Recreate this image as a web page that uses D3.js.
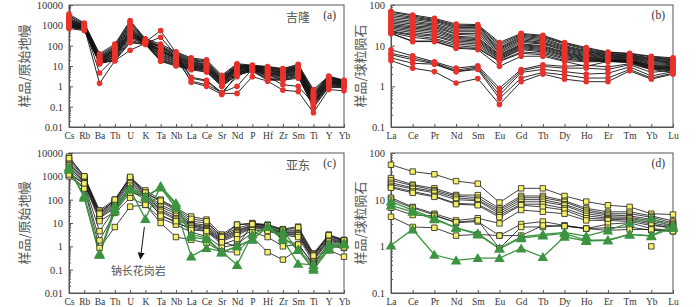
<!DOCTYPE html>
<html>
<head>
<meta charset="utf-8">
<script src="https://cdn.jsdelivr.net/npm/d3@7"></script>
<style>
  body { margin: 0; background: #fff; }
  svg text { font-family: "Liberation Serif", "Times New Roman", serif; fill: #333; }
  svg text.cjk { font-family: "Noto Sans CJK SC", sans-serif; fill: #555; }
</style>
</head>
<body>
<div id="chart"></div>
<script>
// Trace element / REE spider diagrams, Jilong (a,b) and Yadong (c,d)

const pmElements = ['Cs','Rb','Ba','Th','U','K','Ta','Nb','La','Ce','Sr','Nd','P','Hf','Zr','Sm','Ti','Y','Yb'];
const reeElements = ['La','Ce','Pr','Nd','Sm','Eu','Gd','Tb','Dy','Ho','Er','Tm','Yb','Lu'];
const pmTicks = [10000, 1000, 100, 10, 1, 0.1, 0.01];
const reeTicks = [100, 10, 1, 0.1];

// (a) Jilong, primitive-mantle normalised
const jilongPM = [
  [3600,1300,40,120,1700,220,120,50,25,20,3.5,13,11,9.5,7.5,12,0.7,3.2,2.0],
  [3000,1200,35,100,1500,200,100,45,22,18,3.0,12,10,9,7,11,0.6,3.0,1.9],
  [2600,1100,30,90,1300,190,90,40,20,16,2.8,11,10,8.5,6.5,10,0.5,2.8,1.8],
  [2200,1050,28,80,1100,180,80,36,18,15,2.5,10,9.5,8,6,9.5,0.45,2.6,1.7],
  [2000,1000,26,70,950,170,70,33,16,13,2.3,9.5,9,7.5,5.5,9,0.4,2.4,1.6],
  [1800,950,24,65,800,165,60,30,15,12,2.1,9,9,7,5,8.5,0.35,2.2,1.5],
  [1600,900,22,60,700,160,55,28,14,11,2.0,8.5,8.5,6.5,4.8,8,0.3,2.0,1.4],
  [1500,850,20,55,600,155,50,26,13,10,1.9,8,8,6,4.5,7.5,0.28,1.9,1.35],
  [1400,800,19,50,500,150,45,24,12,9.5,1.8,7.5,8,5.5,4.2,7,0.25,1.8,1.3],
  [1300,780,18,45,450,150,40,22,11,9,1.7,7,7.5,5,4,6.5,0.22,1.7,1.25],
  [1200,750,17,40,400,145,35,20,10,8.5,1.6,6.5,7.5,4.5,3.8,6,0.2,1.6,1.2],
  [1100,720,16,35,350,140,32,18,9.5,8,1.5,6,7,4.2,3.5,5.5,0.18,1.5,1.15],
  [1000,700,15,30,300,140,28,16,9,7.5,1.4,5.5,7,4,3.2,5,0.16,1.4,1.1],
  [950,680,14,28,260,135,25,15,8.5,7,1.3,5,6.5,3.5,3,4.5,0.15,1.3,1.05],
  [900,650,14,25,220,130,22,13,8,6.5,1.2,4.5,6.5,3,2.8,4,0.13,1.2,1.0],
  [850,620,13,22,180,125,20,12,7.5,6,1.1,4,6,2.5,2.5,3.5,0.12,1.1,0.95],
  [800,600,13,20,150,120,18,11,7,5.5,1.0,3.8,6,2.2,2.2,3.2,0.1,1.0,0.9],
  [700,550,14,18,140,115,17,10,6.5,5,1.0,3.6,5.5,2,2,3,0.09,0.9,0.85],
  [2000,900,4.5,25,600,150,550,45,2.8,2.0,0.5,1.0,7,3,1.2,1.0,0.15,1.8,1.3],
  [1500,800,1.4,18,60,130,260,35,2.5,1.8,0.45,0.45,3.0,1.8,0.65,0.55,0.05,0.7,0.6],
  [1200,700,14,40,300,140,60,25,1.8,1.2,0.5,3,7,4,2,2.5,0.3,2.5,1.5],
  [1000,650,20,60,400,160,90,30,1.6,1.0,0.4,4,8,5,3,4,0.35,2.8,1.8]
];

// (b) Jilong, chondrite normalised
const jilongREE = [
  [70,57,47,34,33,12,20,18,12,9,7,6.5,5.5,5],
  [66,54,44,32,31,11,19,17,11.5,8.5,6.8,6.3,5.3,4.8],
  [60,50,42,30,30,10,18,16,11,8,6.5,6,5,4.6],
  [55,47,40,28,28,9,17,15,10,7.6,6.3,5.8,4.8,4.5],
  [50,44,37,26,26,8.5,16,14,9.5,7.2,6,5.6,4.6,4.3],
  [46,40,34,24,24,8,15,13,9,7,5.8,5.4,4.4,4.1],
  [42,37,32,22,22,7.5,14,12,8.5,6.6,5.6,5.2,4.2,4.0],
  [39,34,30,20,20,7,13,11.5,8,6.3,5.4,5.0,4.0,3.8],
  [36,31,28,19,18,6.5,12,11,7.5,6,5.2,4.9,3.8,3.6],
  [33,29,26,17,16,6,11,10,7,5.7,5,4.7,3.6,3.4],
  [31,27,24,16,15,5.8,10.5,9.5,6.7,5.4,4.8,4.5,3.4,3.2],
  [29,25,22,15,14,5.5,10,9,6.4,5.2,4.6,4.4,3.3,3.0],
  [27,23,20,14,13,5.2,9.5,8.5,6,5,4.5,4.3,3.2,2.9],
  [25,21,18,13,12,5,9,8,5.7,4.8,4.4,4.2,3.1,2.8],
  [23,19,17,12,11,4.7,8.5,7.5,5.4,4.6,4.3,4.1,3.0,2.7],
  [22,18,15,11,10,4.5,8,7,5,4.4,4.2,4.1,2.9,2.6],
  [21,16,14,10,9,4.2,7,6.5,4.7,4.2,4.1,4.0,2.8,2.5],
  [20,13,13,9,8.5,4.1,6.5,6,4.3,4.0,4.1,4.0,2.7,2.4],
  [20,12.6,12.6,8.7,8,3.1,5.5,5.5,4.1,3.1,4.1,3.8,2.6,2.2],
  [7.9,5.6,4.0,2.8,3.2,0.9,2.6,3.4,3.1,3.3,3.0,3.6,2.6,3.0],
  [6.5,5.0,3.8,2.5,3.0,0.75,2.4,3.1,2.8,2.8,2.6,3.4,2.2,2.5],
  [6.0,4.5,3.6,2.3,2.8,0.6,2.2,2.6,2.3,2.0,2.1,3.0,1.8,2.3],
  [5.0,3.7,3.5,2.3,2.6,0.5,1.6,2.2,1.9,1.6,1.6,2.6,1.6,2.1],
  [4.3,2.8,2.3,1.2,1.55,0.36,1.3,2.0,1.5,1.3,1.3,2.4,1.5,2.0]
];

// (c) Yadong granites, primitive-mantle normalised
const yadongPM = [
  [7000,1000,35,100,900,250,100,44,19,14,3.2,8.5,10,8.5,5.5,7,0.5,3.2,1.9],
  [5000,900,30,90,800,200,80,35,12,10,2.8,6,9,8,5,5,0.45,2.8,1.8],
  [4000,800,25,80,700,180,60,30,10,8,2.5,5,8,7,4.5,4.5,0.4,2.5,1.7],
  [3500,700,22,70,600,160,50,25,9,7,2.2,4.5,7.5,6.5,4,4,0.35,2.2,1.6],
  [3000,600,20,60,500,150,40,20,8.5,6,2.0,4,7,6,3.8,3.6,0.3,2.0,1.5],
  [2500,550,18,50,400,140,35,16,8,5.5,1.8,3.5,6.5,5.5,3.5,3.2,0.28,1.8,1.4],
  [2000,500,16,45,300,120,30,14,7,5,1.6,3,6,5,3.2,3,0.25,1.6,1.3],
  [1500,450,4.5,40,250,100,23,10,6,4.5,1.2,2,5,4.5,3,2.5,0.2,1.3,1.2],
  [1100,350,1.8,27,120,60,16,8.5,4,2.7,0.9,1.2,4,2.5,1.0,1.2,0.18,1.0,0.85],
  [1000,300,0.85,6.7,50,60,10,2.5,1.9,1.4,0.6,0.56,2.5,0.56,0.27,0.72,0.16,0.7,0.36],
  [6000,1000,25,100,950,200,90,40,15,12,2.5,8.5,9,7.5,5,6.5,0.4,3,1.8],
  [1200,500,12,30,200,140,20,12,5,4.5,1.5,1,9,8,2,1.2,0.16,1.2,0.9]
];
// (c) Yadong albite granite
const yadongAlbitePM = [
  [2200,130,0.45,32,270,15,380,72,3.2,2.3,0.56,1.0,1.9,7,4.4,0.7,0.1,0.72,1.4],
  [2500,120,0.44,55,316,140,330,44,0.37,0.85,0.6,0.16,3.2,6.7,1.9,0.18,0.16,1.2,1.2],
  [1900,150,0.5,40,290,120,350,60,2.5,2.0,0.55,1.0,2.0,7,2.5,0.72,0.12,0.9,1.3]
];

// (d) Yadong granites, chondrite normalised
const yadongREE = [
  [56,40,35,25,22,8.7,17.5,17.5,12,9.1,7.6,7,5,4.8],
  [29,21,17.5,12.6,12.5,6.5,12,12,9.5,6.5,5.5,5.5,4.5,3.5],
  [26,20,16,12,11,6,11,11,9,6,5,5,4.2,3.2],
  [23,18,15,11,10,5.5,10,10,8,5.5,4.7,4.5,3.8,3],
  [21,17,14,10,9.5,5,9,9,7.5,5,4.3,4.2,3.5,2.8],
  [19,15,12,8.3,8,4.6,8,8,6.5,4.5,4,4,3.2,2.6],
  [18,14,11.5,8,7.6,4.2,7.6,7,6,4,3.8,3.7,3,2.4],
  [11,7,5,3.6,4,3.1,6,5.5,5,3.6,3.6,3.4,2.8,2.5],
  [10,6.7,4.7,3.2,3.4,1.7,3,3.4,2.8,2.4,3,3.2,2.4,2.2],
  [6.7,4.7,4.5,3.3,3.6,0.9,2.6,2.6,2.8,2.4,2.5,2.6,2.2,2.1],
  [4.3,2.6,2.5,1.7,1.8,1.7,1.7,2.8,2.7,2.4,2.2,2.3,2.3,2.1],
  [null,null,null,null,null,null,null,null,null,null,null,null,1.0,null]
];
// (d) Yadong albite granite
const yadongAlbiteREE = [
  [9.1,6,4,2.5,1.9,0.9,1.6,1.8,2.0,1.65,2.2,3.2,4,2.5],
  [7.5,5.5,3.8,2.5,1.8,0.9,1.5,1.7,1.9,1.35,1.35,1.8,1.65,2.5],
  [1.05,2.3,0.66,0.5,0.56,0.56,0.9,0.59,1.6,1.3,1.35,1.8,1.7,2.8]
];

const svg = d3.select('#chart').append('svg')
  .attr('width', 700)
  .attr('height', 307);

function drawPanel(opt) {
  const x = d3.scalePoint().domain(opt.cats).range([opt.left, opt.right]);
  const y = d3.scaleLog().domain(opt.domain).range([opt.bottom, opt.top]);
  const g = svg.append('g');

  // frame
  g.append('rect')
    .attr('x', opt.left).attr('y', opt.top)
    .attr('width', opt.right - opt.left).attr('height', opt.bottom - opt.top)
    .attr('fill', 'none').attr('stroke', '#555').attr('stroke-width', 1);

  // log minor ticks
  const minors = [];
  for (let e = Math.round(Math.log10(opt.domain[0])); e < Math.round(Math.log10(opt.domain[1])); e++) {
    for (let m = 2; m <= 9; m++) minors.push(m * Math.pow(10, e));
  }
  g.append('g')
    .attr('transform', `translate(${opt.left},0)`)
    .call(d3.axisLeft(y).tickValues(minors).tickSize(-2).tickFormat(''))
    .call(a => a.select('.domain').remove())
    .selectAll('line').attr('stroke', '#555');

  const yAxis = g.append('g')
    .attr('transform', `translate(${opt.left},0)`)
    .call(d3.axisLeft(y).tickValues(opt.ticks).tickSize(-4).tickPadding(6).tickFormat(d => String(d)));
  yAxis.select('.domain').attr('stroke', '#555');
  yAxis.selectAll('line').attr('stroke', '#555');
  yAxis.selectAll('text').style('font-size', '10.5px').style('font-family', null).attr('fill', '#333');

  const xAxis = g.append('g')
    .attr('transform', `translate(0,${opt.bottom})`)
    .call(d3.axisBottom(x).tickSize(-3).tickPadding(5));
  xAxis.select('.domain').attr('stroke', '#555');
  xAxis.selectAll('line').attr('stroke', '#555');
  xAxis.selectAll('text').style('font-size', '9.5px').style('font-family', null).attr('fill', '#333');

  // y title
  g.append('text')
    .attr('class', 'cjk')
    .attr('transform', `translate(${opt.titleX},${(opt.top + opt.bottom) / 2}) rotate(-90)`)
    .attr('text-anchor', 'middle')
    .attr('dy', '0.35em')
    .style('font-size', '13px')
    .text(opt.yTitle);

  // panel letter
  g.append('text')
    .attr('x', opt.right - 8).attr('y', opt.top + 14)
    .attr('text-anchor', 'end')
    .style('font-size', '11.5px')
    .text(opt.letter);

  if (opt.place) {
    g.append('text')
      .attr('class', 'cjk')
      .attr('x', opt.right - 46).attr('y', opt.top + 17)
      .attr('text-anchor', 'middle')
      .style('font-size', '12px')
      .attr('fill', '#333')
      .text(opt.place);
  }

  // map values to pixel points, nulls become gaps
  const pts = s => s.map((v, i) => v == null ? null : [x(opt.cats[i]), y(v)]);
  const path = d3.line().defined(d => d != null);

  return { x, y, g, pts, path };
}

// ---- (a)
const pa = drawPanel({ left: 69, right: 344, top: 5, bottom: 127, cats: pmElements, titleX: 24,
  domain: [0.01, 10000], ticks: pmTicks, yTitle: '样品/原始地幔', letter: '(a)', place: '吉隆' });
pa.g.selectAll(null).data(jilongPM).enter().append('path')
  .attr('d', d => pa.path(pa.pts(d)))
  .attr('fill', 'none').attr('stroke', '#111').attr('stroke-width', 0.9);
jilongPM.forEach(s => {
  pa.g.selectAll(null).data(pa.pts(s).filter(p => p)).enter().append('circle')
    .attr('cx', p => p[0]).attr('cy', p => p[1]).attr('r', 2.8)
    .attr('fill', '#e8322b');
});

// ---- (b)
const pb = drawPanel({ left: 391, right: 673, top: 5, bottom: 127, cats: reeElements, titleX: 360,
  domain: [0.1, 100], ticks: reeTicks, yTitle: '样品/球粒陨石', letter: '(b)' });
pb.g.selectAll(null).data(jilongREE).enter().append('path')
  .attr('d', d => pb.path(pb.pts(d)))
  .attr('fill', 'none').attr('stroke', '#111').attr('stroke-width', 0.9);
jilongREE.forEach(s => {
  pb.g.selectAll(null).data(pb.pts(s).filter(p => p)).enter().append('circle')
    .attr('cx', p => p[0]).attr('cy', p => p[1]).attr('r', 2.8)
    .attr('fill', '#e8322b');
});

const square = d3.symbol(d3.symbolSquare).size(30);
const triangle = d3.symbol(d3.symbolTriangle).size(48);

function drawYadong(p, yellow, green) {
  p.g.selectAll(null).data(yellow).enter().append('path')
    .attr('d', d => p.path(p.pts(d)))
    .attr('fill', 'none').attr('stroke', '#111').attr('stroke-width', 0.8);
  p.g.selectAll(null).data(green).enter().append('path')
    .attr('d', d => p.path(p.pts(d)))
    .attr('fill', 'none').attr('stroke', '#3d9440').attr('stroke-width', 1.3);
  yellow.forEach(s => {
    p.g.selectAll(null).data(p.pts(s).filter(q => q)).enter().append('path')
      .attr('d', square)
      .attr('transform', q => `translate(${q[0]},${q[1]})`)
      .attr('fill', '#f4ef63').attr('stroke', '#222').attr('stroke-width', 0.8);
  });
  green.forEach(s => {
    p.g.selectAll(null).data(p.pts(s).filter(q => q)).enter().append('path')
      .attr('d', triangle)
      .attr('transform', q => `translate(${q[0]},${q[1] + 1})`)
      .attr('fill', '#3d9440');
  });
}

// ---- (c)
const pc = drawPanel({ left: 69, right: 344, top: 153, bottom: 293, cats: pmElements, titleX: 24,
  domain: [0.01, 10000], ticks: pmTicks, yTitle: '样品/原始地幔', letter: '(c)', place: '亚东' });
drawYadong(pc, yadongPM, yadongAlbitePM);

// arrow to the albite granite K trough
svg.append('defs').append('marker')
  .attr('id', 'arrow').attr('viewBox', '0 0 10 10')
  .attr('refX', 9).attr('refY', 5)
  .attr('markerWidth', 7).attr('markerHeight', 7)
  .attr('orient', 'auto')
  .append('path').attr('d', 'M0,0 L10,5 L0,10 z').attr('fill', '#111');
const kx = pc.x('K');
const ky = pc.y(yadongAlbitePM[0][5]);
pc.g.append('line')
  .attr('x1', kx - 1).attr('y1', ky + 8)
  .attr('x2', kx - 5).attr('y2', ky + 40)
  .attr('stroke', '#111').attr('stroke-width', 1)
  .attr('marker-end', 'url(#arrow)');
pc.g.append('text')
  .attr('class', 'cjk')
  .attr('x', kx - 7).attr('y', ky + 56)
  .attr('text-anchor', 'middle')
  .style('font-size', '11px')
  .attr('fill', '#333')
  .text('钠长花岗岩');

// ---- (d)
const pd = drawPanel({ left: 391, right: 673, top: 153, bottom: 293, cats: reeElements, titleX: 360,
  domain: [0.1, 100], ticks: reeTicks, yTitle: '样品/球粒陨石', letter: '(d)' });
drawYadong(pd, yadongREE, yadongAlbiteREE);
</script>
</body>
</html>
